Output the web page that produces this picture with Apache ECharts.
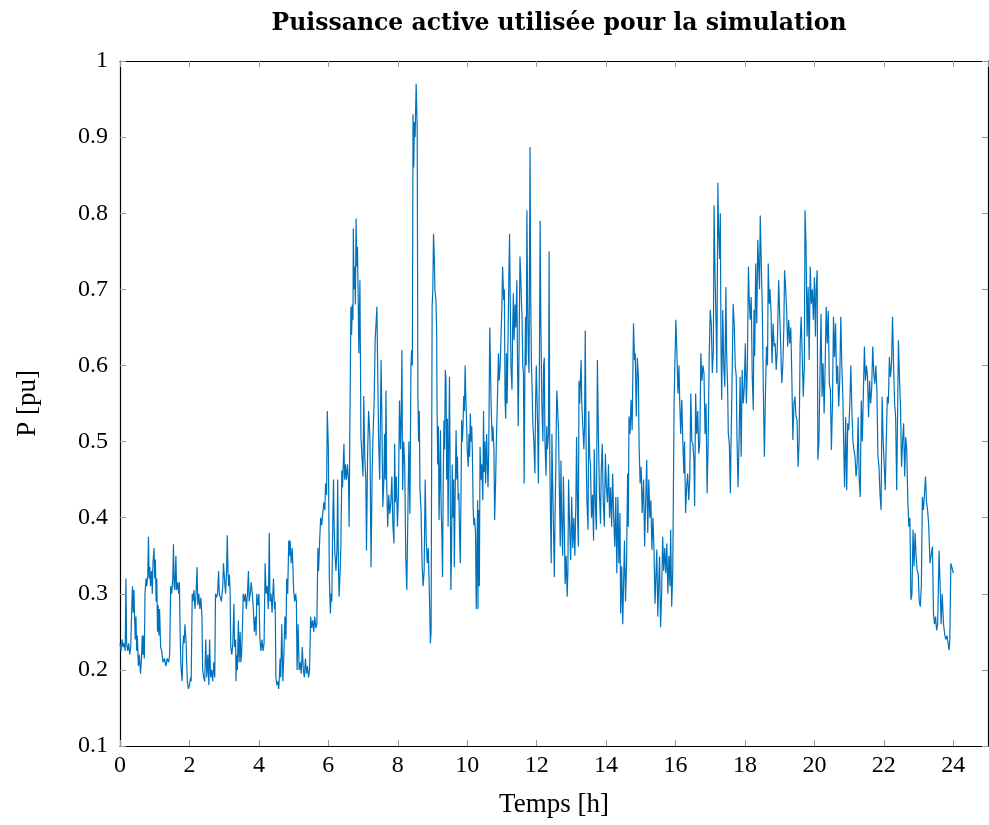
<!DOCTYPE html>
<html>
<head>
<meta charset="utf-8">
<script src="https://cdn.jsdelivr.net/npm/echarts@6/dist/echarts.min.js"></script>
<style>
html,body{margin:0;padding:0;background:#fff;}
#chart{width:989px;height:825px;}
</style>
</head>
<body>
<div id="chart"></div>
<script>
const titleText = 'Puissance active utilisée pour la simulation';
const xName = 'Temps [h]';
const yName = 'P [pu]';

const hours = [
0.00,0.03,0.06,0.09,0.12,0.15,0.17,0.19,0.22,0.25,0.28,0.31,0.34,0.36,0.38,0.40,0.42,0.44,0.46,0.48,
0.50,0.53,0.56,0.59,0.62,0.64,0.66,0.68,0.70,0.72,0.75,0.77,0.80,0.82,0.84,0.86,0.88,0.91,0.93,0.95,
0.98,1.00,1.02,1.04,1.06,1.08,1.10,1.12,1.14,1.17,1.20,1.24,1.28,1.32,1.36,1.40,1.43,1.46,1.49,1.52,
1.54,1.56,1.58,1.61,1.63,1.66,1.69,1.71,1.73,1.75,1.77,1.79,1.81,1.83,1.85,1.87,1.90,1.92,1.94,1.97,
2.00,2.03,2.05,2.08,2.10,2.13,2.16,2.19,2.22,2.24,2.27,2.30,2.33,2.36,2.38,2.41,2.44,2.47,2.50,2.53,
2.56,2.58,2.61,2.64,2.67,2.70,2.73,2.75,2.78,2.81,2.84,2.86,
2.88,2.92,2.96,2.98,3.01,3.04,3.07,3.09,3.11,3.13,3.15,3.17,3.19,3.22,3.25,3.28,3.30,3.33,3.34,3.36,
3.38,3.41,3.43,3.46,3.48,3.50,3.53,3.55,3.58,3.61,3.64,3.67,3.70,3.72,3.75,3.78,3.81,3.84,3.87,3.90,
3.92,3.94,3.97,4.00,4.03,4.06,4.09,4.12,4.15,4.18,4.21,4.24,4.27,4.30,4.32,4.35,4.38,4.42,4.45,4.47,
4.49,4.52,4.55,4.57,4.59,4.61,4.63,4.66,4.69,4.72,4.75,4.78,4.80,4.83,4.86,4.88,4.90,4.93,4.96,4.98,
5.00,5.03,5.06,5.08,5.10,5.13,5.16,5.19,5.22,5.25,5.28,5.31,5.34,5.37,5.40,5.43,5.46,5.49,5.52,5.55,
5.58,5.61,5.64,5.67,5.70,5.72,5.75,5.78,5.81,5.84,5.87,5.90,5.92,5.95,5.97,
6.00,6.03,6.06,6.08,6.10,6.13,6.15,6.17,6.19,6.22,6.25,6.27,6.29,6.31,6.34,6.36,6.39,6.41,6.43,6.45,
6.47,6.49,6.52,6.55,6.58,6.60,6.62,6.63,6.65,6.67,6.69,6.71,6.72,6.74,6.76,6.78,6.80,6.82,6.84,6.86,
6.88,6.91,6.94,6.97,7.00,7.02,7.05,7.08,7.10,7.13,7.16,7.18,7.20,7.23,7.26,7.28,7.32,7.35,7.38,7.40,
7.42,7.45,7.48,7.52,7.54,7.57,7.60,7.62,7.64,7.66,7.68,7.71,7.74,7.77,7.80,7.83,7.86,7.89,7.91,7.93,
7.96,7.99,8.02,8.05,8.08,8.10,8.12,8.14,8.17,8.20,8.23,8.26,8.29,8.32,8.35,8.38,8.40,8.42,8.44,8.46,
8.48,8.50,8.53,8.56,8.58,8.60,8.62,8.64,8.67,8.70,8.73,8.76,8.79,8.82,8.85,8.88,
8.91,8.94,8.96,8.99,9.01,9.03,9.05,9.07,9.10,9.12,9.13,9.15,9.17,9.19,9.21,9.23,9.25,9.27,9.29,9.31,
9.33,9.35,9.37,9.39,9.41,9.43,9.45,9.47,9.49,9.51,9.53,9.55,9.57,9.59,9.61,9.63,9.65,9.68,9.70,9.72,
9.74,9.76,9.78,9.80,9.82,9.84,9.86,9.88,9.90,9.92,9.94,9.96,9.98,10.00,10.03,10.05,10.07,10.09,10.11,10.13,
10.15,10.17,10.19,10.21,10.24,10.26,10.28,10.30,10.31,10.33,10.35,10.37,10.40,10.42,10.45,10.47,10.49,10.51,10.53,10.56,
10.58,10.60,10.62,10.65,10.67,10.69,10.72,10.74,10.77,10.79,10.82,10.84,10.87,10.90,10.92,10.95,10.98,11.00,11.02,11.05,
11.07,11.09,11.11,11.13,11.15,11.18,11.20,11.22,11.24,11.26,11.29,11.31,11.33,11.35,11.38,11.40,11.43,11.45,11.47,11.50,
11.52,11.54,11.56,11.58,11.60,11.62,11.64,11.66,11.68,11.70,11.72,11.74,11.76,11.78,11.81,11.83,11.85,11.87,11.89,11.92,
11.95,11.97,11.99,12.01,12.03,12.05,12.08,12.10,12.12,12.15,12.18,12.20,12.22,12.24,12.27,12.29,12.31,12.34,12.36,12.38,
12.40,12.42,12.44,12.46,12.48,12.51,12.53,12.55,12.58,12.60,12.63,12.65,12.68,12.70,12.72,12.75,12.77,12.80,12.82,12.85,
12.88,12.90,12.92,12.95,12.98,13.01,13.04,13.07,13.10,13.13,13.15,13.18,13.20,13.22,13.24,13.28,13.30,13.33,13.36,13.38,
13.40,13.43,13.45,13.48,13.50,13.53,13.55,13.58,13.61,13.64,13.66,13.69,13.72,13.75,13.78,13.81,13.84,13.86,13.89,13.92,
13.95,13.98,14.01,14.04,14.07,14.10,14.13,14.16,14.19,14.22,14.25,14.28,14.31,14.34,14.37,14.40,14.42,14.45,14.48,14.50,
14.53,14.56,14.59,14.62,14.64,14.66,14.69,14.72,14.75,14.79,14.82,14.84,14.87,14.90,14.93,14.95,14.98,15.01,15.04,15.08,
15.11,15.14,15.17,15.20,15.23,15.26,15.29,15.32,15.35,15.38,15.41,15.44,15.46,15.49,15.52,15.54,15.57,15.60,15.63,15.66,
15.69,15.72,15.75,15.78,15.81,15.84,15.86,15.89,15.92,15.94,15.96,15.99,16.01,16.04,16.07,16.10,16.12,16.15,16.18,16.21,
16.24,16.26,16.29,16.32,16.35,16.38,16.41,16.44,16.47,16.50,16.53,16.55,16.58,16.61,16.64,16.67,16.70,16.73,16.76,16.79,
16.82,16.85,16.88,16.91,16.94,16.97,17.00,17.03,17.06,17.09,17.11,17.14,17.17,17.19,17.22,17.24,17.27,17.29,17.31,17.33,
17.36,17.39,17.42,17.45,17.47,17.50,17.52,17.55,17.58,17.60,17.63,17.66,17.69,17.72,17.75,17.77,17.80,17.83,17.86,17.89,
17.92,17.95,17.98,18.01,18.04,18.07,18.10,18.12,18.15,18.18,18.21,18.24,18.26,18.28,18.31,18.34,18.37,18.40,18.42,18.44,
18.47,18.50,18.52,18.54,18.56,18.59,18.62,18.65,18.67,18.70,18.72,18.75,18.78,18.81,18.84,18.87,18.90,18.93,18.97,19.00,
19.03,19.06,19.09,19.12,19.14,19.17,19.20,19.23,19.26,19.29,19.32,19.35,19.38,19.41,19.44,19.47,19.50,19.53,19.56,19.59,
19.62,19.65,19.68,19.71,19.73,19.76,19.79,19.82,19.85,19.88,19.91,19.94,19.97,20.00,20.03,20.05,20.08,20.10,20.13,20.16,
20.19,20.22,20.25,20.28,20.31,20.34,20.37,20.40,20.43,20.46,20.49,20.52,20.55,20.58,20.61,20.64,20.67,20.70,20.73,20.76,
20.79,20.82,20.85,20.87,20.90,20.93,20.96,20.99,21.02,21.05,21.08,21.11,21.14,21.17,21.20,21.23,21.26,21.29,21.32,21.35,
21.38,21.41,21.44,21.47,21.50,21.53,21.56,21.59,21.62,21.65,21.68,21.71,21.74,21.77,21.80,21.83,21.86,21.89,21.92,21.95,
21.98,22.01,22.04,22.07,22.10,22.13,22.16,22.19,22.22,22.25,22.28,22.31,22.34,22.37,22.40,22.42,22.45,22.48,22.51,22.54,
22.57,22.60,22.63,22.66,22.69,22.72,22.75,22.78,22.81,22.84,22.87,22.90,22.93,22.96,22.99,23.02,23.05,23.08,23.11,23.14,
23.17,23.20,23.23,23.26,23.29,23.33,23.36,23.40,23.43,23.46,23.49,23.52,23.55,23.59,23.62,23.65,23.68,23.72,23.75,23.78,
23.82,23.85,23.88,23.90,23.93,23.96,24.00
];

const power = [
0.235,0.225,0.24,0.23,0.235,0.225,0.32,0.235,0.225,0.235,0.22,0.23,0.285,0.31,0.275,0.305,0.27,0.24,0.27,0.225,
0.245,0.205,0.22,0.195,0.215,0.245,0.22,0.245,0.215,0.3,0.32,0.31,0.325,0.375,0.32,0.335,0.31,0.33,0.3,0.34,
0.36,0.32,0.345,0.29,0.32,0.25,0.285,0.245,0.28,0.23,0.225,0.21,0.215,0.205,0.215,0.21,0.22,0.31,0.3,0.32,
0.365,0.31,0.305,0.35,0.305,0.315,0.3,0.315,0.255,0.21,0.195,0.185,0.23,0.245,0.235,0.26,0.24,0.21,0.185,0.175,
0.18,0.19,0.185,0.3,0.29,0.305,0.28,0.3,0.335,0.285,0.3,0.28,0.295,0.27,0.2,0.19,0.185,0.24,0.19,0.22,
0.18,0.24,0.19,0.2,0.185,0.21,0.19,0.3,0.295,0.3,0.33,0.3,
0.3,0.29,0.31,0.34,0.32,0.3,0.33,0.377,0.33,0.31,0.325,0.305,0.23,0.22,0.235,0.287,0.23,0.24,0.185,0.22,
0.2,0.265,0.21,0.25,0.21,0.22,0.26,0.3,0.29,0.3,0.28,0.3,0.33,0.29,0.3,0.315,0.3,0.28,0.25,0.27,
0.245,0.3,0.285,0.3,0.24,0.225,0.24,0.225,0.235,0.34,0.3,0.31,0.28,0.38,0.29,0.3,0.275,0.32,0.28,0.29,
0.19,0.18,0.185,0.175,0.19,0.215,0.19,0.26,0.185,0.22,0.27,0.24,0.32,0.3,0.37,0.35,0.37,0.34,0.36,0.335,
0.305,0.29,0.3,0.29,0.2,0.26,0.2,0.21,0.195,0.23,0.2,0.19,0.215,0.195,0.205,0.19,0.2,0.27,0.255,0.265,
0.25,0.27,0.255,0.26,0.36,0.33,0.37,0.4,0.39,0.405,0.42,0.41,0.445,0.43,0.54,
0.493,0.318,0.274,0.3,0.29,0.4,0.45,0.384,0.353,0.33,0.36,0.45,0.34,0.296,0.33,0.36,0.462,0.44,0.47,0.497,
0.45,0.47,0.45,0.47,0.45,0.388,0.52,0.563,0.677,0.64,0.68,0.66,0.78,0.7,0.73,0.68,0.793,0.73,0.756,0.686,
0.616,0.712,0.506,0.48,0.454,0.56,0.48,0.45,0.357,0.48,0.54,0.524,0.5,0.335,0.45,0.497,0.554,0.634,0.66,0.677,
0.6,0.5,0.45,0.607,0.54,0.414,0.45,0.51,0.45,0.567,0.45,0.388,0.43,0.405,0.42,0.454,0.39,0.366,0.497,0.42,
0.454,0.388,0.43,0.554,0.49,0.532,0.62,0.436,0.5,0.47,0.35,0.305,0.4,0.5,0.405,0.6,0.62,0.6,0.93,0.86,
0.92,0.9,0.97,0.91,0.56,0.5,0.54,0.436,0.41,0.34,0.31,0.33,0.45,0.37,0.34,0.36,
0.3,0.235,0.25,0.677,0.7,0.773,0.747,0.7,0.686,0.646,0.555,0.47,0.52,0.397,0.45,0.515,0.41,0.38,0.322,0.45,
0.528,0.49,0.594,0.58,0.45,0.53,0.388,0.5,0.585,0.45,0.305,0.36,0.47,0.4,0.45,0.335,0.42,0.515,0.45,0.48,
0.423,0.432,0.38,0.34,0.42,0.528,0.5,0.52,0.56,0.54,0.6,0.56,0.53,0.49,0.467,0.51,0.48,0.537,0.5,0.52,
0.485,0.415,0.39,0.4,0.38,0.28,0.35,0.423,0.28,0.41,0.31,0.493,0.45,0.47,0.423,0.54,0.46,0.5,0.445,0.51,
0.47,0.44,0.49,0.65,0.6,0.545,0.5,0.52,0.49,0.397,0.45,0.5,0.555,0.616,0.58,0.6,0.6,0.68,0.73,0.686,
0.7,0.555,0.53,0.616,0.55,0.65,0.717,0.773,0.686,0.6,0.568,0.65,0.695,0.633,0.68,0.65,0.712,0.6,0.52,0.65,
0.743,0.72,0.686,0.664,0.6,0.59,0.445,0.585,0.664,0.6,0.804,0.68,0.62,0.59,0.887,0.69,0.6,0.57,0.523,0.5,
0.458,0.55,0.6,0.56,0.515,0.445,0.6,0.79,0.66,0.55,0.5,0.6,0.61,0.5,0.455,0.52,0.49,0.51,0.75,0.47,
0.4,0.34,0.51,0.45,0.4,0.322,0.4,0.462,0.567,0.55,0.515,0.45,0.362,0.475,0.4,0.35,0.454,0.384,0.313,0.35,
0.296,0.33,0.45,0.39,0.344,0.427,0.36,0.4,0.35,0.42,0.506,0.4,0.362,0.58,0.55,0.607,0.55,0.52,0.49,0.52,
0.646,0.47,0.42,0.384,0.54,0.48,0.47,0.4,0.43,0.37,0.49,0.42,0.384,0.607,0.506,0.43,0.392,0.46,0.497,0.42,
0.388,0.484,0.44,0.42,0.47,0.4,0.44,0.388,0.458,0.4,0.362,0.427,0.327,0.427,0.34,0.406,0.274,0.336,0.26,0.305,
0.37,0.29,0.34,0.458,0.388,0.533,0.51,0.555,0.515,0.655,0.607,0.616,0.533,0.61,0.585,0.497,0.445,0.467,0.406,0.45,
0.362,0.42,0.476,0.38,0.45,0.4,0.423,0.358,0.4,0.358,0.287,0.33,0.358,0.27,0.32,0.349,0.256,0.3,0.375,0.33,
0.36,0.327,0.366,0.3,0.35,0.31,0.384,0.283,0.33,0.44,0.555,0.62,0.66,0.616,0.563,0.6,0.555,0.51,0.555,0.5,
0.458,0.5,0.406,0.44,0.458,0.423,0.45,0.563,0.5,0.497,0.476,0.415,0.563,0.51,0.54,0.484,0.5,0.616,0.58,0.6,
0.59,0.51,0.55,0.432,0.5,0.612,0.673,0.655,0.59,0.62,0.81,0.717,0.65,0.59,0.84,0.78,0.74,0.8,0.625,0.555,
0.673,0.6,0.572,0.703,0.62,0.572,0.511,0.497,0.432,0.5,0.585,0.681,0.655,0.6,0.585,0.506,0.44,0.5,0.585,0.48,
0.594,0.55,0.57,0.629,0.55,0.6,0.73,0.69,0.66,0.69,0.585,0.541,0.673,0.612,0.734,0.655,0.765,0.725,0.7,0.797,
0.734,0.673,0.6,0.533,0.48,0.563,0.625,0.6,0.734,0.681,0.7,0.673,0.603,0.655,0.625,0.629,0.594,0.62,0.712,0.668,
0.625,0.577,0.6,0.65,0.725,0.703,0.673,0.625,0.66,0.629,0.65,0.585,0.502,0.55,0.559,0.533,0.528,0.467,0.5,0.629,
0.664,0.612,0.559,0.6,0.804,0.756,0.638,0.703,0.607,0.73,0.681,0.7,0.66,0.716,0.638,0.7,0.725,0.476,0.5,0.585,
0.668,0.559,0.603,0.537,0.6,0.677,0.629,0.672,0.576,0.568,0.489,0.55,0.664,0.611,0.655,0.576,0.6,0.546,0.58,0.664,
0.6,0.559,0.48,0.44,0.532,0.436,0.524,0.515,0.55,0.6,0.541,0.5,0.489,0.48,0.454,0.47,0.532,0.45,0.427,0.554,
0.5,0.502,0.625,0.58,0.6,0.585,0.532,0.58,0.55,0.57,0.625,0.59,0.576,0.6,0.568,0.48,0.467,0.43,0.41,0.559,
0.502,0.47,0.436,0.5,0.559,0.55,0.611,0.585,0.6,0.664,0.603,0.55,0.532,0.436,0.55,0.633,0.585,0.546,0.467,0.5,
0.524,0.454,0.506,0.489,0.423,0.388,0.4,0.292,0.3,0.384,0.336,0.38,0.349,0.33,0.327,0.29,0.283,0.31,0.427,0.41,
0.43,0.454,0.42,0.41,0.392,0.34,0.35,0.362,0.274,0.26,0.27,0.252,0.26,0.357,0.313,0.26,0.3,0.26,0.248,0.24,
0.245,0.235,0.226,0.24,0.34,0.335,0.327
];

const xTicks = [0,2,4,6,8,10,12,14,16,18,20,22,24];
const yTicks = [0.1,0.2,0.3,0.4,0.5,0.6,0.7,0.8,0.9,1];

const font = 'Liberation Serif';
const data = hours.map((h, i) => [h, power[i]]);

const chart = echarts.init(document.getElementById('chart'), null, {renderer: 'canvas'});
const tickStyle = {show: true, inside: true, length: 6, lineStyle: {color: '#999', width: 1}};
const lineStyleAxis = {show: true, onZero: false, lineStyle: {color: '#000', width: 1.2}};
chart.setOption({
  animation: false,
  backgroundColor: '#fff',
  title: {
    text: titleText,
    left: 554, top: 7, textAlign: 'center',
    textStyle: {fontFamily: 'DejaVu Serif', fontWeight: 'bold', fontSize: 23.5, color: '#000'}
  },
  grid: {left: 120, right: 1, top: 61, bottom: 79, containLabel: false},
  xAxis: [{
    type: 'value', min: 0, max: 25, interval: 2, position: 'bottom',
    name: xName, nameLocation: 'middle', nameGap: 45,
    nameTextStyle: {fontFamily: font, fontSize: 27, color: '#000'},
    axisLine: lineStyleAxis, axisTick: tickStyle,
    axisLabel: {fontFamily: font, fontSize: 24, color: '#000', margin: 8, showMaxLabel: false,
      formatter: v => xTicks.indexOf(v) >= 0 ? String(v) : ''},
    splitLine: {show: false}
  }, {
    type: 'value', min: 0, max: 25, interval: 2, position: 'top',
    axisLine: lineStyleAxis, axisTick: tickStyle, axisLabel: {show: false}, splitLine: {show: false}
  }],
  yAxis: [{
    type: 'value', min: 0.1, max: 1, interval: 0.1, position: 'left',
    name: yName, nameLocation: 'middle', nameGap: 79, nameRotate: 90,
    nameTextStyle: {fontFamily: font, fontSize: 27, color: '#000'},
    axisLine: lineStyleAxis, axisTick: tickStyle,
    axisLabel: {fontFamily: font, fontSize: 24, color: '#000', margin: 12,
      formatter: v => { const r = Math.round(v * 10) / 10; return yTicks.indexOf(r) >= 0 ? String(r) : ''; }},
    splitLine: {show: false}
  }, {
    type: 'value', min: 0.1, max: 1, interval: 0.1, position: 'right',
    axisLine: lineStyleAxis, axisTick: tickStyle, axisLabel: {show: false}, splitLine: {show: false}
  }],
  series: [{
    type: 'line', data: data, xAxisIndex: 0, yAxisIndex: 0,
    showSymbol: false, symbol: 'none', sampling: null,
    lineStyle: {color: '#0072BD', width: 1.2},
    z: 1
  }]
});
</script>
</body>
</html>
